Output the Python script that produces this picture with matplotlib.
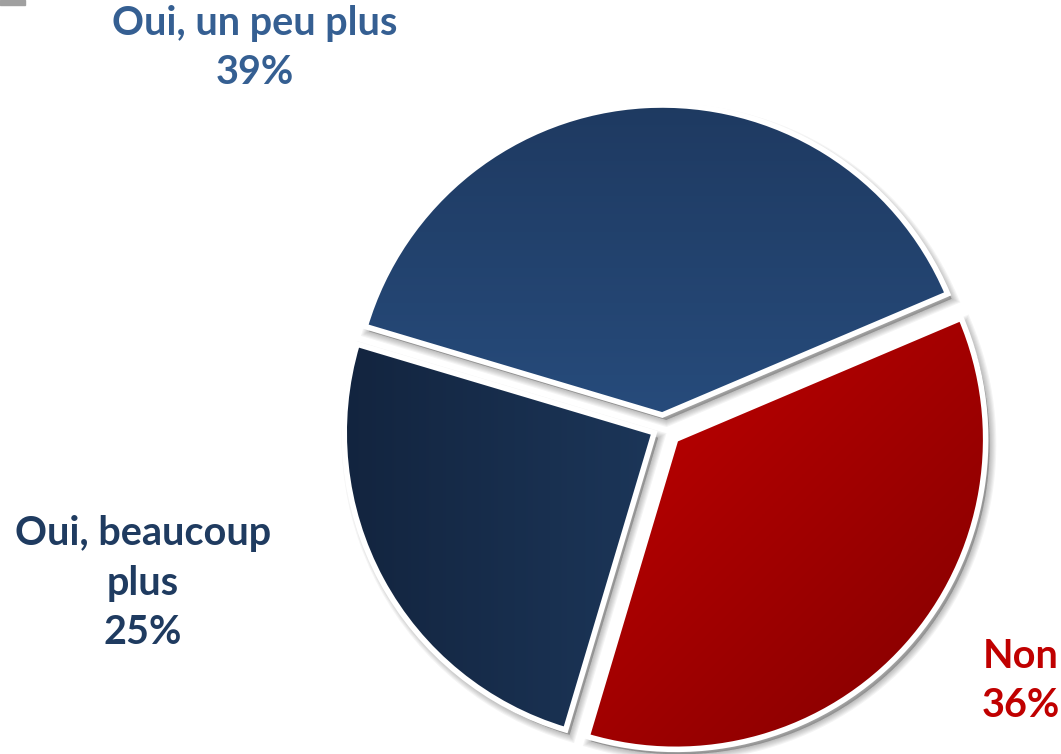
import numpy as np
import matplotlib
matplotlib.use("Agg")
import matplotlib.pyplot as plt
from matplotlib.colors import LinearSegmentedColormap
from matplotlib.patches import Rectangle

labels = ["Oui, un peu plus", "Oui, beaucoup\nplus", "Non"]
values = [39, 25, 36]
label_colors = ["#355f92", "#1f3b60", "#c00000"]

W, H = 1061, 754
fig = plt.figure(figsize=(W / 100, H / 100), dpi=100)
ax = fig.add_axes([0, 0, 1, 1])

cx, cy, r = 663, H - 428, 310
expl = [13, 10, 17]  # pie explode is in data units (px here)

# soft shadow first
for k in range(6, 0, -1):
    ax.pie(values, startangle=23, radius=r, center=(cx + 4, cy - 5),
           explode=expl, frame=True,
           wedgeprops=dict(facecolor="#000000", alpha=0.045,
                           linewidth=k * 1.6, edgecolor="#000000"))
wedges, _ = ax.pie(values, startangle=23, radius=r, center=(cx, cy),
                   explode=expl, frame=True,
                   wedgeprops=dict(linewidth=4, edgecolor="white"))

grads = [
    ("#1e3960", "#305f99", "v"),
    ("#12233d", "#264a76", "h"),
    ("#c40000", "#7e0000", "d"),
]
n = 256
gx, gy = np.meshgrid(np.linspace(0, 1, n), np.linspace(0, 1, n))
for w, (c0, c1, mode) in zip(wedges, grads):
    cmap = LinearSegmentedColormap.from_list("g", [c0, c1])
    if mode == "v":
        img = gy
    elif mode == "h":
        img = gx
    else:
        img = np.clip(((gx + gy) / 2 - 0.35) / 0.65, 0, 1)
    x0, y0, x1, y1 = cx - r - 30, cy - r - 30, cx + r + 30, cy + r + 30
    w.set_facecolor("none")
    w.set_zorder(2)
    im = ax.imshow(img, cmap=cmap, extent=[x0, x1, y0, y1], origin="upper",
                   interpolation="bilinear", zorder=1.5)
    im.set_clip_path(w)

ax.set_xlim(0, W)
ax.set_ylim(0, H)
ax.set_aspect("equal")
ax.axis("off")

font = dict(family=["Lato", "DejaVu Sans"], fontweight="bold", fontsize=28.5,
            ha="center", va="center", linespacing=1.42)
ax.text(255, H - 48, labels[0] + "\n%d%%" % values[0], color=label_colors[0], **font)
ax.text(143, H - 583, labels[1] + "\n%d%%" % values[1], color=label_colors[1], **font)
ax.text(1021, H - 681, labels[2] + "\n%d%%" % values[2], color=label_colors[2], **font)

ax.add_patch(Rectangle((0, H - 5), 25, 5, color="#a0a0a0", clip_on=False))

fig.savefig("out.png", dpi=100)
